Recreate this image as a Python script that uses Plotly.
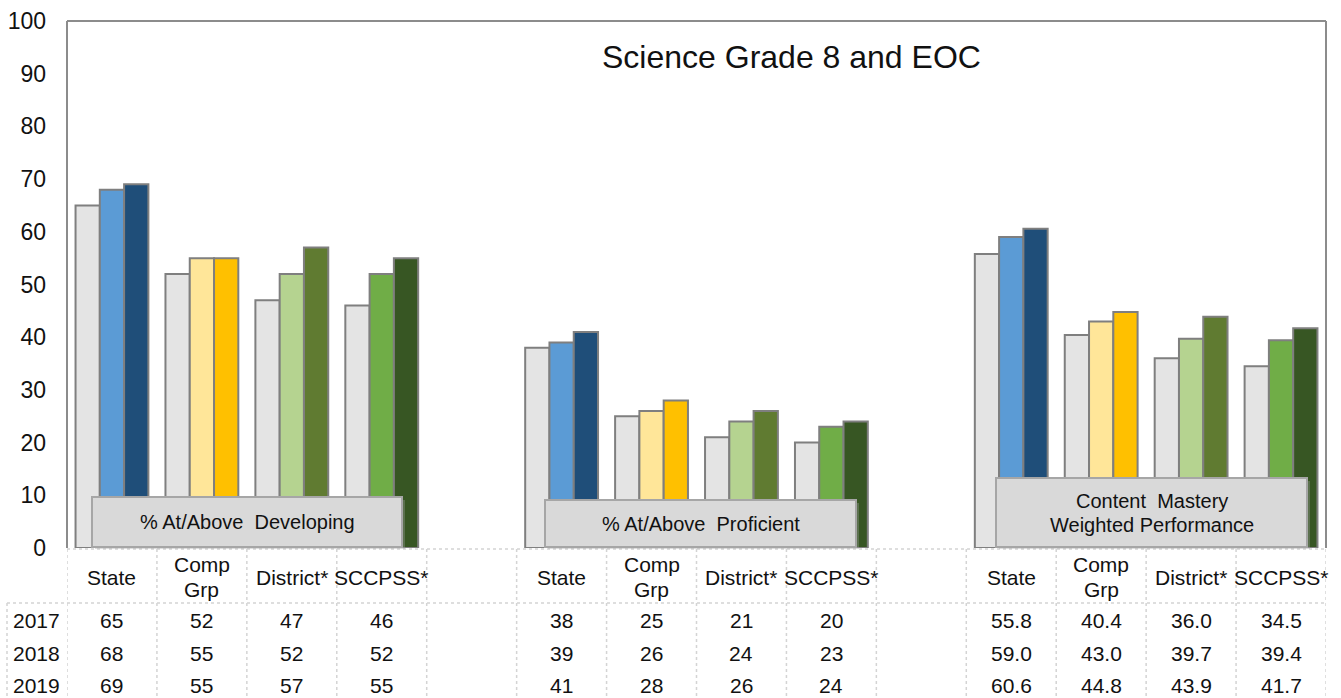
import plotly.graph_objects as go

# ---- data ----
groups = [["% At/Above  Developing"], ["% At/Above  Proficient"],
          ["Content  Mastery", "Weighted Performance"]]
entities = [["State"], ["Comp", "Grp"], ["District*"], ["SCCPSS*"]]
years = ["2017", "2018", "2019"]

developing_2017 = [65, 52, 47, 46]
developing_2018 = [68, 55, 52, 52]
developing_2019 = [69, 55, 57, 55]
proficient_2017 = [38, 25, 21, 20]
proficient_2018 = [39, 26, 24, 23]
proficient_2019 = [41, 28, 26, 24]
mastery_2017 = [55.8, 40.4, 36.0, 34.5]
mastery_2018 = [59.0, 43.0, 39.7, 39.4]
mastery_2019 = [60.6, 44.8, 43.9, 41.7]

entity_colors = [
    ["#E4E4E4", "#5B9BD5", "#1F4E79"],   # State
    ["#E4E4E4", "#FFE699", "#FFC000"],   # Comp Grp
    ["#E4E4E4", "#B5D390", "#607B31"],   # District*
    ["#E4E4E4", "#70AD47", "#375623"],   # SCCPSS*
]

series = {
    "2017": [developing_2017, proficient_2017, mastery_2017],
    "2018": [developing_2018, proficient_2018, mastery_2018],
    "2019": [developing_2019, proficient_2019, mastery_2019],
}
decimals = [0, 0, 1]

# ---- layout geometry (pixels) ----
W, H = 1341, 698
L, R, T, B = 67, 1326, 21, 548
PW, PH = R - L, B - T
NCAT = 14


def px(x):
    return (x - L) / PW


def py(y):
    return (B - y) / PH


fig = go.Figure()
for yi, yr in enumerate(years):
    xs, ys, cols = [], [], []
    for g in range(3):
        for e in range(4):
            xs.append(g * 5 + e)
            ys.append(series[yr][g][e])
            cols.append(entity_colors[e][yi])
    fig.add_trace(go.Bar(
        x=xs, y=ys, name=yr,
        marker=dict(color=cols, line=dict(color="#7F7F7F", width=2)),
        showlegend=False, hoverinfo="y",
    ))

shapes = []
annotations = []
font_family = "Arial, Liberation Sans, sans-serif"
TXT = "#111111"

# frame (left, top, right)
for (x0, y0, x1, y1) in [(L, B, L, T), (L, T, R, T), (R, T, R, B)]:
    shapes.append(dict(type="line", xref="paper", yref="paper",
                       x0=px(x0), y0=py(y0), x1=px(x1), y1=py(y1),
                       line=dict(color="#8C8C8C", width=2)))

# table grid
grid = dict(color="#D4D4D4", width=1.5, dash="dot")
shapes.append(dict(type="line", xref="paper", yref="paper", x0=px(L), x1=px(R),
                   y0=py(549), y1=py(549), line=grid))
shapes.append(dict(type="line", xref="paper", yref="paper", x0=px(7), x1=px(R),
                   y0=py(603), y1=py(603), line=grid))
shapes.append(dict(type="line", xref="paper", yref="paper", x0=px(7), x1=px(7),
                   y0=py(603), y1=py(H), line=grid))
for k in range(NCAT + 1):
    xk = k - 0.5
    shapes.append(dict(type="line", xref="x", yref="paper", x0=xk, x1=xk,
                       y0=py(549), y1=py(H), line=grid))


def text(x, y, s, size, xref="paper"):
    annotations.append(dict(xref=xref, yref="paper", x=x, y=y, text=s,
                            showarrow=False, font=dict(size=size, color=TXT),
                            xanchor="center", yanchor="middle"))


# header + values
for g in range(3):
    for e, lines in enumerate(entities):
        xc = g * 5 + e
        if len(lines) == 1:
            text(xc, py(577), lines[0], 21, xref="x")
        else:
            text(xc, py(564), lines[0], 21, xref="x")
            text(xc, py(589), lines[1], 21, xref="x")
        for yi, yr in enumerate(years):
            v = series[yr][g][e]
            text(xc, py(620 + yi * 33), f"{v:.{decimals[g]}f}", 21, xref="x")
for yi, yr in enumerate(years):
    text(px(36), py(620 + yi * 33), yr, 21)

# group label boxes
boxes = [(92, 497, 402, 547), (545, 500, 856, 547), (996, 478, 1307, 547)]
for (x0, y0, x1, y1), lines in zip(boxes, groups):
    shapes.append(dict(type="rect", xref="paper", yref="paper",
                       x0=px(x0 + 3), y0=py(y1 + 2), x1=px(x1 + 3), y1=py(y0 + 3),
                       fillcolor="rgba(160,160,160,0.35)", line=dict(width=0)))
    shapes.append(dict(type="rect", xref="paper", yref="paper",
                       x0=px(x0), y0=py(y1), x1=px(x1), y1=py(y0),
                       fillcolor="#D9D9D9", line=dict(color="#A6A6A6", width=2)))
    cx, cy = (x0 + x1) / 2, (y0 + y1) / 2
    if len(lines) == 1:
        text(px(cx), py(cy), lines[0], 20)
    else:
        text(px(cx), py(cy - 12), lines[0], 20)
        text(px(cx), py(cy + 12), lines[1], 20)

# title
text(px(791), py(57), "Science Grade 8 and EOC", 32)

fig.update_layout(
    width=W, height=H,
    margin=dict(l=L, r=W - R, t=T, b=H - B, pad=0, autoexpand=False),
    paper_bgcolor="white", plot_bgcolor="white",
    barmode="group", bargap=0.19, bargroupgap=0,
    font=dict(family=font_family, color=TXT),
    xaxis=dict(range=[-0.5, NCAT - 0.5], showticklabels=False, showgrid=False,
               zeroline=False, showline=False, ticks="", fixedrange=True,
               automargin=False),
    yaxis=dict(range=[0, 100], dtick=10, showgrid=False, zeroline=False,
               showline=False, ticks="", ticklabelstandoff=20, automargin=False,
               tickfont=dict(size=23, color=TXT), fixedrange=True),
    shapes=shapes, annotations=annotations,
)

fig.write_html("out.html", config={"displayModeBar": False},
               post_script="document.body.style.margin='0';document.body.style.padding='0';")
